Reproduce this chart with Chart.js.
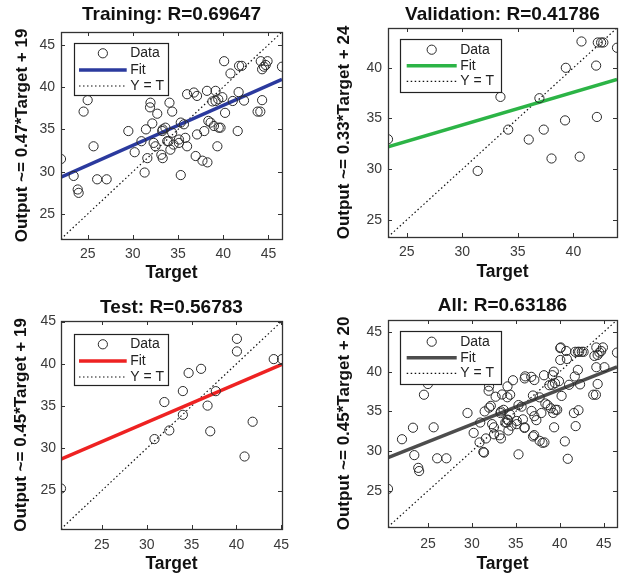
<!DOCTYPE html>
<html>
<head>
<meta charset="utf-8">
<script src="https://cdn.jsdelivr.net/npm/chart.js@4.4.0/dist/chart.umd.min.js"></script>
<style>
body { margin: 0; background: #fff; }
#wrap { position: relative; width: 623px; height: 576px; }
canvas { position: absolute; }
</style>
</head>
<body>
<div id="wrap">
<canvas id="c1" width="311" height="288" style="left:0;top:0"></canvas>
<canvas id="c2" width="312" height="288" style="left:311px;top:0"></canvas>
<canvas id="c3" width="311" height="288" style="left:0;top:288px"></canvas>
<canvas id="c4" width="312" height="288" style="left:311px;top:288px"></canvas>
</div>
<script>
// values
const trainTarget = [22.05, 23.45, 23.9, 24.0, 24.55, 25.0, 25.65, 26.05, 27.1, 29.5, 30.2, 30.95, 31.3, 31.45, 31.6,
    31.95, 31.9, 32.15, 32.3, 32.5, 32.7, 33.15, 33.3, 33.3, 33.25, 33.6, 33.8, 33.95, 34.05, 34.15, 34.35, 34.35, 34.5,
    35.1, 35.1, 35.3, 35.3, 35.65, 35.8, 36.0, 36.0, 36.75, 37.1, 36.95, 37.1, 37.7, 37.9, 38.2, 38.25, 38.35, 38.6,
    38.8, 38.97, 39.15, 39.15, 39.35, 39.45, 39.5, 39.7, 39.9, 40.1, 40.2, 40.8, 41.05, 41.6, 41.7, 41.75, 42.05, 42.3,
    43.8, 44.1, 44.3, 44.15, 44.3, 44.5, 44.9, 44.7, 46.5];
const trainOutput = [31.5, 29.5, 27.9, 27.5, 37.1, 38.45, 33.0, 29.1, 29.1, 34.8, 32.3, 33.6, 29.9, 35.0, 31.6,
    38.15, 37.6, 35.7, 33.4, 33.0, 36.85, 32.0, 31.6, 35.0, 34.8, 35.2, 33.6, 33.6, 38.15, 32.6, 37.1, 34.6, 33.2,
    33.8, 33.4, 29.6, 35.8, 35.6, 34.0, 33.0, 39.15, 39.35, 38.95, 31.85, 34.4, 31.3, 34.8, 39.55, 31.1, 36.0, 35.8,
    38.3, 35.4, 39.55, 38.35, 33.0, 38.55, 35.2, 35.2, 38.8, 43.05, 36.95, 41.6, 38.35, 34.8, 39.4, 42.5, 42.5, 38.4,
    37.1, 37.1, 38.45, 43.05, 42.1, 42.4, 43.05, 42.6, 42.4];

const valTarget = [23.3, 31.38, 33.43, 34.13, 35.98, 36.94, 37.33, 38.03, 39.25, 39.32, 40.57, 40.73, 42.05, 42.12,
    42.2, 42.5, 42.7, 43.93];
const valOutput = [32.95, 29.82, 37.13, 33.9, 32.92, 37.0, 33.9, 31.05, 34.81, 40.0, 31.23, 42.6, 40.22, 35.15,
    42.5, 42.5, 42.5, 41.98];

const testTarget = [20.46, 30.87, 31.97, 32.52, 34.03, 34.03, 34.67, 36.06, 36.78, 37.08, 37.7, 40.05, 40.05, 40.9,
    41.8, 44.15, 45.07];
const testOutput = [25.25, 31.1, 35.48, 32.12, 33.97, 36.78, 38.92, 39.41, 35.06, 32.02, 36.77, 42.96, 41.47, 29.04,
    33.15, 40.56, 40.56];

const allTarget = trainTarget.concat(valTarget, testTarget);
const allOutput = trainOutput.concat(valOutput, testOutput);

// [slope, intercept] of each fit line
const trainFit = [0.4727, 18.93];
const valFit = [0.323, 24.67];
const testFit = [0.4555, 19.4];
const allFit = [0.439, 20.19];

const titles = ['Training: R=0.69647', 'Validation: R=0.41786', 'Test: R=0.56783', 'All: R=0.63186'];
const yLabels = ['Output ~= 0.47*Target + 19', 'Output ~= 0.33*Target + 24',
    'Output ~= 0.45*Target + 19', 'Output ~= 0.45*Target + 20'];
const legendLabels = ['Data', 'Fit', 'Y = T'];

const ticks5 = [25, 30, 35, 40, 45];
const valTicks = [25, 30, 35, 40];

Chart.defaults.font.family = '"Liberation Sans", Arial, sans-serif';

const framePlugin = {
    id: 'frame',
    afterDraw(chart, args, o) {
        const { ctx, chartArea: a, scales: { x, y } } = chart;
        ctx.save();
        ctx.strokeStyle = '#333';
        ctx.lineWidth = 1;
        ctx.beginPath();
        x.ticks.forEach(t => {
            const px = Math.round(x.getPixelForValue(t.value)) + 0.5;
            ctx.moveTo(px, a.bottom); ctx.lineTo(px, a.bottom - 4);
            ctx.moveTo(px, a.top); ctx.lineTo(px, a.top + 4);
        });
        y.ticks.forEach(t => {
            const py = Math.round(y.getPixelForValue(t.value)) + 0.5;
            ctx.moveTo(a.left, py); ctx.lineTo(a.left + 4, py);
            ctx.moveTo(a.right, py); ctx.lineTo(a.right - 4, py);
        });
        ctx.stroke();
        ctx.lineWidth = 1.3;
        ctx.strokeRect(Math.round(a.left) + 0.5, Math.round(a.top) + 0.5,
            Math.round(a.right - a.left), Math.round(a.bottom - a.top));

        // legend box in the upper left corner
        const L = o.legend;
        const lx = Math.round(a.left + L.x), ly = Math.round(a.top + L.y);
        ctx.fillStyle = '#fff';
        ctx.fillRect(lx, ly, L.w, L.h);
        ctx.lineWidth = 1.2;
        ctx.strokeStyle = '#222';
        ctx.strokeRect(lx + 0.5, ly + 0.5, L.w, L.h);
        ctx.font = '14px "Liberation Sans", Arial, sans-serif';
        ctx.textBaseline = 'middle';
        chart.data.datasets.forEach((ds, i) => {
            const ry = ly + L.rows[i];
            ctx.save();
            if (i === 0) {
                ctx.strokeStyle = ds.borderColor;
                ctx.lineWidth = ds.pointBorderWidth;
                ctx.beginPath();
                ctx.arc(lx + (L.s0 + L.s1) / 2, ry, ds.pointRadius, 0, Math.PI * 2);
                ctx.stroke();
            } else {
                ctx.strokeStyle = ds.borderColor;
                ctx.lineWidth = ds.borderWidth;
                ctx.setLineDash(ds.borderDash || []);
                ctx.beginPath();
                ctx.moveTo(lx + L.s0, ry);
                ctx.lineTo(lx + L.s1, ry);
                ctx.stroke();
            }
            ctx.restore();
            ctx.fillStyle = '#222';
            ctx.fillText(ds.label, lx + L.s1 + 3.5, ry);
        });
        ctx.restore();
    }
};

function panel(id, k, target, output, fit, color, xt, yt, g) {
    const lo = Math.min(...target, ...output);
    const hi = Math.max(...target, ...output);
    const pts = target.map((t, i) => ({ x: t, y: output[i] }));
    const fitPts = [lo, hi].map(v => ({ x: v, y: fit[0] * v + fit[1] }));
    const idPts = [lo, hi].map(v => ({ x: v, y: v }));
    const tickFont = { size: 14 };
    new Chart(document.getElementById(id), {
        type: 'scatter',
        data: {
            datasets: [
                { label: legendLabels[0], data: pts, xAxisID: 'x', yAxisID: 'y', pointStyle: 'circle',
                  pointRadius: 4.6, pointBorderWidth: 1, borderColor: '#2a2a2a',
                  backgroundColor: 'rgba(0,0,0,0)', order: 0 },
                { type: 'line', label: legendLabels[1], data: fitPts, xAxisID: 'x', yAxisID: 'y',
                  borderColor: color, borderWidth: 3.5, pointRadius: 0, order: 1 },
                { type: 'line', label: legendLabels[2], data: idPts, xAxisID: 'x', yAxisID: 'y',
                  borderColor: '#111', borderWidth: 1.2, borderDash: [1.5, 2.5], pointRadius: 0, order: 2 }
            ]
        },
        options: {
            responsive: false,
            animation: false,
            devicePixelRatio: 1,
            layout: { padding: { left: 0, top: 0, bottom: 0, right: g.padR } },
            plugins: {
                legend: { display: false },
                title: { display: false },
                tooltip: { enabled: false },
                frame: { legend: g.legend }
            },
            scales: {
                x: {
                    type: 'linear', position: 'bottom', min: lo, max: hi,
                    afterBuildTicks: s => { s.ticks = xt.map(v => ({ value: v })); },
                    afterFit: s => { s.height = g.B; },
                    grid: { display: false, drawTicks: false }, border: { display: false },
                    ticks: { padding: g.xTickPad, color: '#3a3a3a', font: tickFont, maxRotation: 0, autoSkip: false },
                    title: { display: true, text: 'Target', color: '#111', font: { size: 17.5, weight: 'bold' },
                             padding: { top: 0, bottom: g.xTitlePad } }
                },
                top: {
                    type: 'linear', position: 'top',
                    afterFit: s => { s.height = g.T; },
                    grid: { display: false, drawTicks: false }, border: { display: false },
                    ticks: { display: false },
                    title: { display: true, text: titles[k], color: '#111', font: { size: 19, weight: 'bold' },
                             padding: { top: g.titleTop, bottom: 0 } }
                },
                y: {
                    type: 'linear', position: 'left', min: lo, max: hi,
                    afterBuildTicks: s => { s.ticks = yt.map(v => ({ value: v })); },
                    afterFit: s => { s.width = g.L; },
                    grid: { display: false, drawTicks: false }, border: { display: false },
                    ticks: { padding: g.yTickPad, color: '#3a3a3a', font: tickFont, autoSkip: false },
                    title: { display: true, text: yLabels[k], color: '#111', font: { size: 17, weight: 'bold' },
                             padding: { top: g.yTitlePad, bottom: 0 } }
                }
            }
        },
        plugins: [framePlugin]
    });
}

const narrowLegend = { x: 13, y: 11, w: 94, h: 52, s0: 5, s1: 52.7, rows: [10.3, 27, 43] };
const wideLegend = { x: 11.6, y: 11, w: 101, h: 53, s0: 6.7, s1: 56.7, rows: [10.7, 26.7, 42.4] };

panel('c1', 0, trainTarget, trainOutput, trainFit, '#2b3a9e', ticks5, ticks5,
    { L: 61, padR: 29, T: 32, B: 49, titleTop: 3.8, xTickPad: 7, yTickPad: 6, xTitlePad: 4.5, yTitlePad: 11.8,
      legend: narrowLegend });
panel('c2', 1, valTarget, valOutput, valFit, '#2cb446', valTicks, valTicks,
    { L: 77, padR: 6, T: 28, B: 51, titleTop: 3.8, xTickPad: 6.8, yTickPad: 6, xTitlePad: 5.8, yTitlePad: 22.8,
      legend: wideLegend });
panel('c3', 2, testTarget, testOutput, testFit, '#ee2222', ticks5, ticks5,
    { L: 61, padR: 29, T: 33, B: 47, titleTop: 8, xTickPad: 7.7, yTickPad: 5, xTitlePad: 1.6, yTitlePad: 11.5,
      legend: Object.assign({}, narrowLegend, { y: 12.7, h: 51 }) });
panel('c4', 3, allTarget, allOutput, allFit, '#4d4d4d', ticks5, ticks5,
    { L: 77, padR: 6, T: 32, B: 49, titleTop: 6, xTickPad: 9, yTickPad: 6, xTitlePad: 1.6, yTitlePad: 23.1,
      legend: wideLegend });
</script>
</body>
</html>
